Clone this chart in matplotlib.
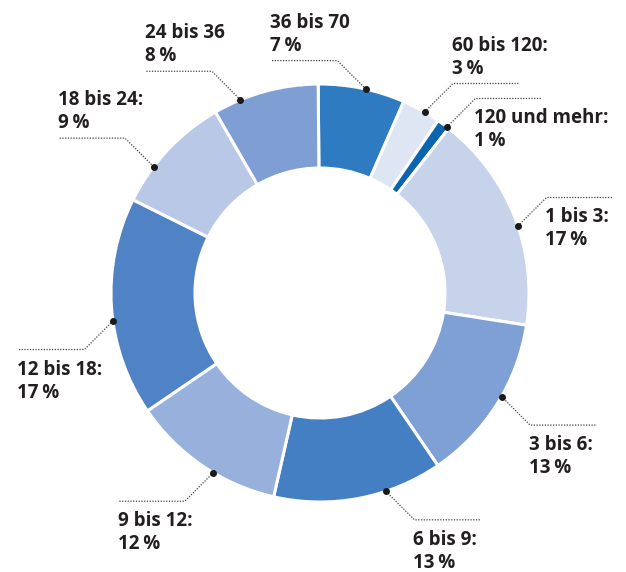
import numpy as np
import matplotlib
matplotlib.use("Agg")
import matplotlib.pyplot as plt

# ---- data ----
categories = ["36 bis 70", "60 bis 120:", "120 und mehr:", "1 bis 3:", "3 bis 6:",
              "6 bis 9:", "9 bis 12:", "12 bis 18:", "18 bis 24:", "24 bis 36"]
shares = [6.7, 3.0, 1.0, 16.9, 13.0, 13.1, 11.9, 16.9, 9.3, 8.2]
pct_labels = ["7\u2009%", "3\u2009%", "1\u2009%", "17\u2009%", "13\u2009%",
              "13\u2009%", "12\u2009%", "17\u2009%", "9\u2009%", "8\u2009%"]
colors = ["#2f7bc2", "#dee6f4", "#0a64b0", "#c6d3eb", "#7fa0d4",
          "#437fc2", "#97b0dc", "#5083c5", "#b9c8e7", "#7f9fd4"]

# ---- layout (pixel space, y up) ----
W, H = 626, 572
cx, cy = 320, H - 293
R, ring = 209, 84
dot_angles = [77.3, 60.0, 52.6, 18.7, -29.7, -71.6, -120.7, -172.3, 142.8, 112.4]
x_dir = [-1, 1, 1, 1, 1, 1, -1, -1, -1, -1]
y_dir = [1, 1, 1, 1, -1, -1, -1, -1, 1, 1]
text_above = [True, True, False, False, False, False, False, False, True, True]
diag, horiz = 28.5, 66

fig = plt.figure(figsize=(W / 100, H / 100), dpi=100)
ax = fig.add_axes([0, 0, 1, 1])
ax.pie(shares, colors=colors, startangle=90.5, counterclock=False,
       center=(cx, cy), radius=R,
       wedgeprops=dict(width=ring, edgecolor="white", linewidth=2.2))
ax.set_xlim(0, W)
ax.set_ylim(0, H)
ax.set_aspect("equal")
ax.axis("off")

fam = ["Open Sans", "DejaVu Sans"]
tcol = "#231f20"
for cat, pl, ang, sx, sy, above in zip(categories, pct_labels, dot_angles,
                                        x_dir, y_dir, text_above):
    a = np.deg2rad(ang)
    px, py = cx + R * np.cos(a), cy + R * np.sin(a)
    bx, by = px + sx * diag, py + sy * diag
    ex, ey = bx + sx * horiz, by
    ax.plot([px, bx, ex], [py, by, ey], color="#444444", lw=0.9,
            ls=(0, (1, 1.2)), zorder=3)
    ax.plot([px], [py], "o", color="#1a1a1a", ms=4, zorder=4)
    tx = min(bx, ex) - 1
    if above:
        y1, y2 = ey + 33, ey + 10
    else:
        y1, y2 = ey - 25, ey - 48
    ax.text(tx, y1, cat, ha="left", va="baseline", fontsize=13.5,
            fontweight="bold", color=tcol, family=fam)
    ax.text(tx, y2, pl, ha="left", va="baseline", fontsize=13.5,
            fontweight="bold", color=tcol, family=fam)

fig.savefig("out.png", dpi=100)
